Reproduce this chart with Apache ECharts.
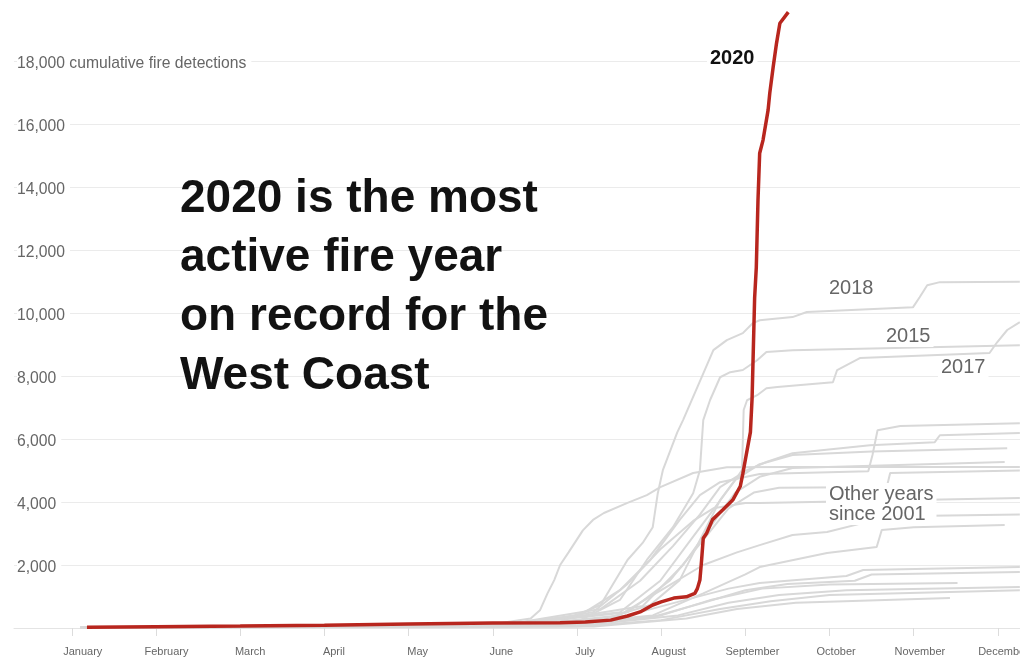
<!DOCTYPE html>
<html>
<head>
<meta charset="utf-8">
<title>West Coast fire detections</title>
<script src="https://cdn.jsdelivr.net/npm/echarts@6/dist/echarts.min.js"></script>
<style>
  html, body { margin: 0; padding: 0; background: #fff; }
  #chart { width: 1020px; height: 661px; }
</style>
</head>
<body>
<div id="chart"></div>
<script>
// x = months since Jan 1 (0 = January, 11 = December), y = cumulative detections
var months = ['January', 'February', 'March', 'April', 'May', 'June',
  'July', 'August', 'September', 'October', 'November', 'December'];
var monthTicks = [0, 1, 2, 3, 4, 5, 6, 7, 8, 9, 10, 11];
var yTicks = [2000, 4000, 6000, 8000, 10000, 12000, 14000, 16000, 18000];

var line2020 = [[0.18,20],[1,40],[2,60],[3,85],[4,125],[5,160],[5.8,170],[6.1,190],[6.4,250],
  [6.6,380],[6.75,510],[6.9,730],[7.0,830],[7.15,950],[7.3,990],[7.4,1100],[7.43,1250],
  [7.46,1520],[7.48,2150],[7.5,2850],[7.54,3010],[7.61,3440],[7.73,3745],[7.85,4060],
  [7.94,4500],[7.97,4900],[8.0,5340],[8.06,6220],[8.08,7300],[8.09,8360],[8.11,10470],
  [8.13,11450],[8.15,13580],[8.17,15070],[8.21,15490],[8.27,16440],[8.29,16980],
  [8.33,17800],[8.37,18560],[8.41,19200],[8.51,19550]];

var line2018 = [[0.1,15],[3.9,60],[5.8,190],[6.28,730],[6.6,2160],[6.78,2700],[6.9,3200],
  [6.96,4280],[7.02,5010],[7.19,6200],[7.26,6600],[7.43,7650],[7.62,8820],[7.78,9140],
  [7.97,9360],[8.09,9680],[8.17,9770],[8.56,9870],[8.73,10030],[9.99,10180],[10.07,10500],
  [10.16,10880],[10.31,10980],[11.26,10990]];

var line2015 = [[0.1,15],[4.49,60],[6.04,250],[6.51,890],[6.83,2160],[7.14,3200],[7.38,4280],
  [7.46,5010],[7.5,6600],[7.58,7230],[7.7,7960],[7.82,8120],[7.97,8190],[8.14,8500],
  [8.25,8760],[8.56,8820],[11.26,8980]];

var line2017 = [[0.1,15],[5.09,60],[6.28,250],[6.87,730],[7.22,1520],[7.46,2790],[7.7,4060],
  [7.88,4700],[7.96,5010],[7.97,5970],[7.98,6920],[8.02,7230],[8.14,7390],[8.25,7610],
  [8.38,7650],[9.04,7800],[9.09,8190],[9.36,8570],[10.9,8730],[10.99,9070],[11.11,9460],
  [11.26,9710]];

var otherYears = [
  [[0.1,15],[5.09,95],[6.04,410],[6.51,1200],[6.87,2160],[7.22,3430],[7.46,4220],[7.7,4630],
   [8.17,4890],[9.46,4980],[9.51,5490],[9.57,6280],[9.84,6410],[11.26,6500]],
  [[0.1,15],[5.09,80],[6.28,600],[6.75,1500],[7.14,2600],[7.46,3600],[7.7,4470],[8.02,5010],
   [8.25,5270],[8.56,5550],[9.48,5800],[10.25,5900],[10.31,6120],[11.26,6190]],
  [[0.1,15],[5.09,70],[6.51,500],[6.99,1500],[7.38,2900],[7.66,3900],[7.88,4700],[8.17,5200],
   [8.56,5490],[9.5,5600],[11.11,5710]],
  [[0.1,15],[5.3,60],[6.78,700],[7.26,2000],[7.58,3200],[7.88,4300],[8.17,4800],[8.56,5080],
   [11.08,5270]],
  [[0.1,15],[4.9,80],[5.45,300],[5.56,560],[5.65,1100],[5.73,1520],[5.8,2000],[5.9,2400],
   [6.07,3100],[6.19,3430],[6.32,3650],[6.6,3970],[6.83,4220],[6.99,4470],[7.38,4920],
   [7.78,5100],[8.5,5110],[11.26,5110]],
  [[0.1,15],[5.09,60],[6.6,500],[7.1,1500],[7.5,2800],[7.8,3800],[8.1,4300],[8.4,4450],
   [9.68,4480],[9.72,4920],[11.26,5000]],
  [[0.1,15],[5.2,60],[6.19,500],[6.6,1400],[6.99,2500],[7.38,3400],[7.62,3800],[8.0,3966],
   [8.17,3970],[11.26,4125]],
  [[0.1,15],[5.3,60],[6.5,400],[7.0,1200],[7.5,2000],[7.9,2400],[8.17,2630],[8.56,2950],
   [8.97,3050],[9.5,3400],[10.2,3560],[11.26,3600]],
  [[0.1,15],[5.6,60],[6.9,400],[7.5,1100],[8.0,1700],[8.17,1935],[8.97,2380],[9.56,2570],
   [9.62,3110],[10.0,3200],[11.08,3270]],
  [[0.1,15],[5.5,60],[6.6,400],[7.3,900],[7.8,1250],[8.17,1430],[9.2,1650],[9.4,1840],
   [11.26,1935]],
  [[0.1,15],[5.8,60],[6.9,350],[7.5,800],[8.0,1200],[8.5,1400],[9.3,1500],[9.5,1700],
   [11.26,1780]],
  [[0.1,15],[5.8,60],[7.0,400],[7.6,900],[8.2,1250],[9.0,1380],[10.52,1430]],
  [[0.1,15],[6.0,60],[7.2,400],[7.8,800],[8.4,1050],[9.2,1200],[11.26,1300]],
  [[0.1,15],[6.0,50],[7.0,250],[7.7,600],[8.3,850],[9.0,1050],[11.26,1200]],
  [[0.1,15],[6.2,50],[7.3,300],[7.9,600],[8.6,800],[10.43,950]]
];

var chartDom = document.getElementById('chart');
var myChart = echarts.init(chartDom);
var option;

var font = '"Liberation Sans", Arial, sans-serif';

function grayLine(data) {
  return {
    type: 'line',
    data: data,
    xAxisIndex: 0,
    yAxisIndex: 0,
    showSymbol: false,
    silent: true,
    z: 2,
    lineStyle: { color: '#d8d8d8', width: 2 }
  };
}

var series = otherYears.map(grayLine);
series.push(grayLine(line2015), grayLine(line2017), grayLine(line2018));
series.push({
  type: 'line',
  data: line2020,
  xAxisIndex: 0,
  yAxisIndex: 0,
  showSymbol: false,
  silent: true,
  z: 5,
  lineStyle: { color: '#b8261e', width: 3.5 }
});

function label(text, x, y, size, weight, color) {
  return {
    type: 'text',
    z: 100,
    x: x - 3,
    y: y,
    style: {
      text: text,
      font: weight + ' ' + size + 'px ' + font,
      fill: color,
      verticalAlign: 'middle',
      backgroundColor: '#fff',
      padding: [1, 3],
      lineHeight: 20
    }
  };
}

option = {
  animation: false,
  backgroundColor: '#fff',
  grid: { left: 14, right: 0, top: -2, bottom: 33, containLabel: false, outerBoundsMode: 'none' },
  xAxis: [
    {
      type: 'value',
      min: -0.6865,
      max: 11.262,
      axisLine: { show: true, lineStyle: { color: '#e4e4e4' } },
      axisTick: { show: true, customValues: monthTicks, length: 8, lineStyle: { color: '#dcdcdc' } },
      axisLabel: { show: false },
      splitLine: { show: false }
    },
    {
      type: 'value',
      position: 'bottom',
      min: -0.822,
      max: 11.197,
      axisLine: { show: false },
      axisTick: { show: false },
      splitLine: { show: false },
      axisLabel: {
        customValues: monthTicks,
        margin: 18,
        color: '#666',
        fontSize: 11,
        fontFamily: font,
        formatter: function (v) { return months[Math.round(v)]; }
      }
    }
  ],
  yAxis: [
    {
      // gridlines
      type: 'value',
      min: 0,
      max: 20000,
      interval: 2000,
      axisLine: { show: false },
      axisTick: { show: false },
      axisLabel: { show: false },
      splitLine: { lineStyle: { color: '#ebebeb', width: 1 } }
    },
    {
      // tick labels, sitting a touch below their gridlines
      type: 'value',
      position: 'left',
      min: 95,
      max: 20095,
      axisLine: { show: false },
      axisTick: { show: false },
      splitLine: { show: false },
      axisLabel: {
        customValues: yTicks,
        inside: true,
        margin: 3,
        color: '#666',
        fontSize: 15.7,
        fontFamily: font,
        backgroundColor: '#fff',
        padding: [0, 5, 0, 0],
        formatter: function (v) {
          var s = v.toLocaleString('en-US');
          return v === 18000 ? s + ' cumulative fire detections' : s;
        }
      }
    }
  ],
  graphic: [
    {
      type: 'text',
      z: 100,
      x: 180,
      y: 170,
      style: {
        text: '2020 is the most\nactive fire year\non record for the\nWest Coast',
        font: 'bold 46px ' + font,
        fill: '#121212',
        lineHeight: 59
      }
    },
    label('2020', 710, 58, 20, 'bold', '#111'),
    label('2018', 829, 288, 20, 'normal', '#666'),
    label('2015', 886, 336, 20, 'normal', '#666'),
    label('2017', 941, 367, 20, 'normal', '#666'),
    label('Other years\nsince 2001', 829, 504, 20, 'normal', '#666')
  ],
  series: series
};

option && myChart.setOption(option);
window.addEventListener('resize', function () {
  myChart.resize();
});
</script>
</body>
</html>
